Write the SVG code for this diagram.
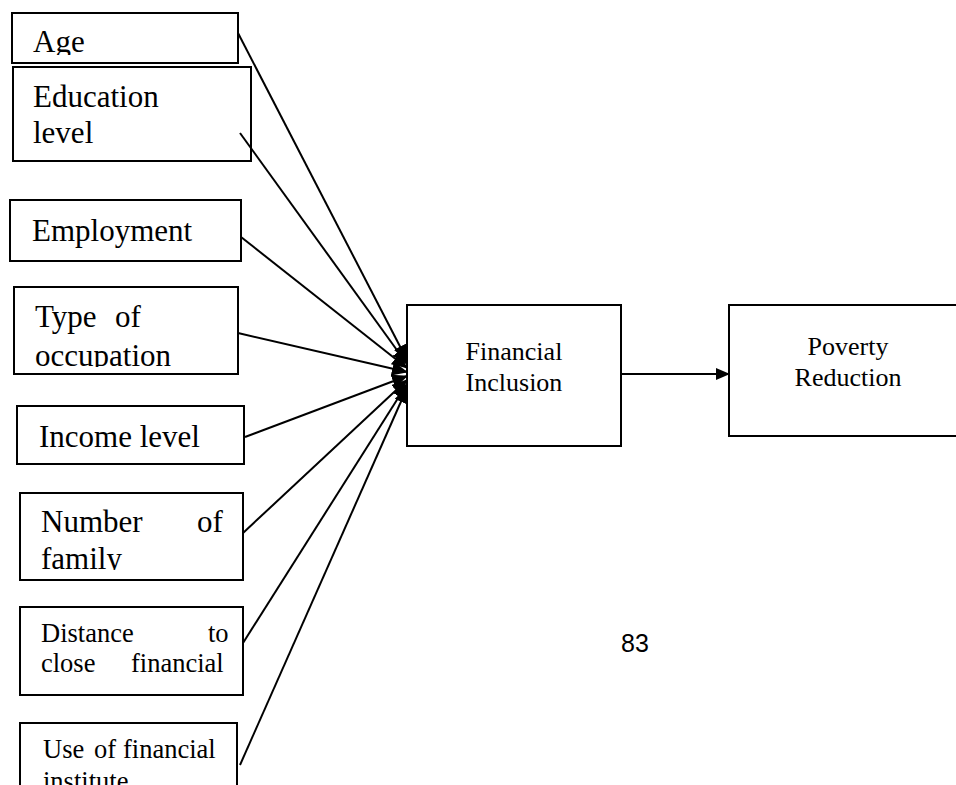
<svg xmlns="http://www.w3.org/2000/svg" width="956" height="785" viewBox="0 0 956 785">
<style>
.box{fill:#fff;stroke:#000;stroke-width:2}
.t{font-family:"Liberation Serif","Times New Roman",serif;fill:#000}
.big{font-size:31px}
.sm{font-size:26.5px}
.mid{font-size:26px;text-anchor:middle}
.ln{stroke:#000;stroke-width:2;fill:none}
</style>
<defs>
<marker id="ah" markerUnits="userSpaceOnUse" markerWidth="16" markerHeight="14" refX="15" refY="7" orient="auto">
<path d="M0,0 L16,7 L0,14 Z" fill="#000"/>
</marker>
<marker id="ah2" markerUnits="userSpaceOnUse" markerWidth="14" markerHeight="12" refX="13" refY="6" orient="auto">
<path d="M0,0 L14,6 L0,12 Z" fill="#000"/>
</marker>
<clipPath id="cAge"><rect x="12" y="13" width="226" height="42"/></clipPath>
<clipPath id="cOcc"><rect x="14" y="287" width="224" height="80"/></clipPath>
<clipPath id="cFam"><rect x="20" y="493" width="223" height="77"/></clipPath>
</defs>
<g id="age">
<rect class="box" x="12" y="13" width="226" height="50"/>
<text class="t big" x="33" y="52" clip-path="url(#cAge)">Age</text>
</g>
<g id="education">
<rect class="box" x="13" y="67" width="238" height="94"/>
<text class="t big" x="33" y="107">Education</text>
<text class="t big" x="33" y="143">level</text>
</g>
<g id="employment">
<rect class="box" x="10" y="200" width="231" height="61"/>
<text class="t big" x="32" y="241">Employment</text>
</g>
<g id="occupation">
<rect class="box" x="14" y="287" width="224" height="87"/>
<g clip-path="url(#cOcc)">
<text class="t big" x="35" y="327">Type</text>
<text class="t big" x="115" y="327">of</text>
<text class="t big" x="35" y="366">occupation</text>
</g>
</g>
<g id="income">
<rect class="box" x="17" y="406" width="227" height="58"/>
<text class="t big" x="39" y="447">Income level</text>
</g>
<g id="family">
<rect class="box" x="20" y="493" width="223" height="87"/>
<g clip-path="url(#cFam)">
<text class="t big" x="41" y="532">Number</text>
<text class="t big" x="197" y="532">of</text>
<text class="t big" x="41" y="569">family</text>
</g>
</g>
<g id="distance">
<rect class="box" x="20" y="607" width="223" height="88"/>
<text class="t sm" x="41" y="642">Distance</text>
<text class="t sm" x="208" y="642">to</text>
<text class="t sm" x="41" y="672">close</text>
<text class="t sm" x="131" y="672">financial</text>
</g>
<g id="use">
<rect class="box" x="20" y="723" width="217" height="80"/>
<text class="t sm" x="43" y="758">Use</text>
<text class="t sm" x="94" y="758">of</text>
<text class="t sm" x="123" y="758">financial</text>
<text class="t sm" x="43" y="790">institute</text>
</g>
<g id="financial">
<rect class="box" x="407" y="305" width="214" height="141"/>
<text class="t mid" x="514" y="360">Financial</text>
<text class="t mid" x="514" y="391">Inclusion</text>
</g>
<g id="poverty">
<rect class="box" x="729" y="305" width="240" height="131"/>
<text class="t mid" x="848" y="355">Poverty</text>
<text class="t mid" x="848" y="386">Reduction</text>
</g>
<text class="t" x="621" y="652" style="font-family:'Liberation Sans',Arial,sans-serif;font-size:25px">83</text>
<g id="connectors">
<line class="ln" x1="238" y1="33" x2="407" y2="360" marker-end="url(#ah)"/>
<line class="ln" x1="240" y1="133" x2="407" y2="364" marker-end="url(#ah)"/>
<line class="ln" x1="241" y1="237" x2="407" y2="368" marker-end="url(#ah)"/>
<line class="ln" x1="238" y1="333" x2="407" y2="372" marker-end="url(#ah)"/>
<line class="ln" x1="245" y1="437" x2="407" y2="376" marker-end="url(#ah)"/>
<line class="ln" x1="243" y1="533" x2="407" y2="380" marker-end="url(#ah)"/>
<line class="ln" x1="243" y1="643" x2="407" y2="384" marker-end="url(#ah)"/>
<line class="ln" x1="240" y1="765" x2="407" y2="388" marker-end="url(#ah)"/>
<line class="ln" x1="621" y1="374" x2="729" y2="374" marker-end="url(#ah2)"/>
</g>
</svg>
